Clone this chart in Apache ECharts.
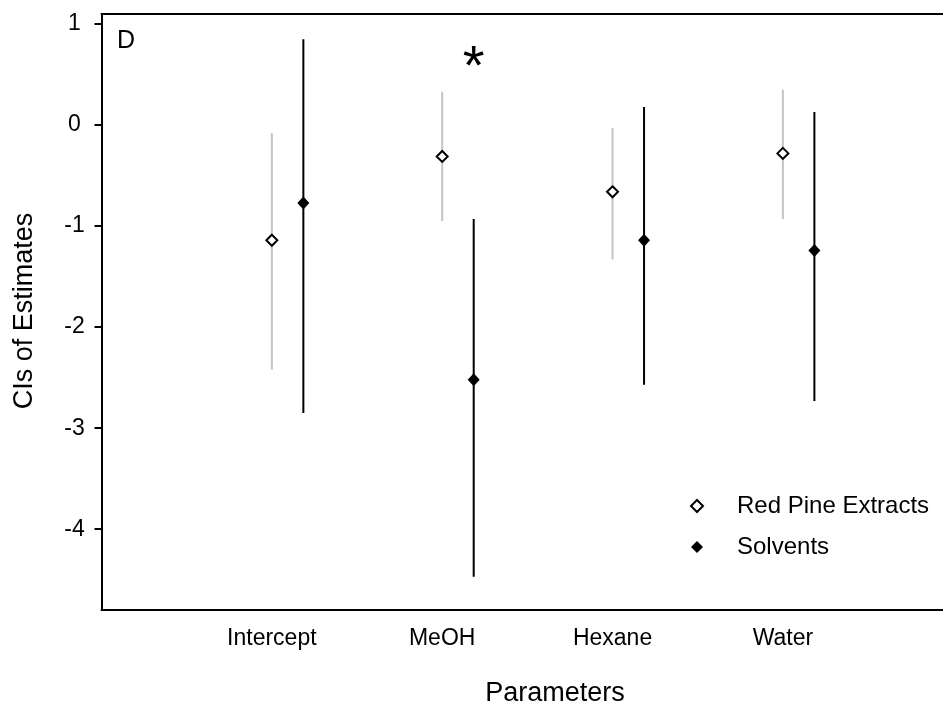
<!DOCTYPE html>
<html><head><meta charset="utf-8">
<script src="https://cdn.jsdelivr.net/npm/echarts@6/dist/echarts.min.js"></script>
<style>html,body{margin:0;padding:0;background:#fff}#c{width:943px;height:728px}</style>
</head><body><div id="c"></div>
<script>
// ---- data ----
const categories = ['Intercept', 'MeOH', 'Hexane', 'Water'];
const categoryPositions = [1, 2, 3, 4];
const solventOffset = 0.185;
const pineEstimate = [-1.14, -0.31, -0.66, -0.28];
const pineLower    = [-2.42, -0.95, -1.33, -0.93];
const pineUpper    = [-0.08,  0.33, -0.03,  0.35];
const solventEstimate = [-0.77, -2.52, -1.14, -1.24];
const solventLower    = [-2.85, -4.47, -2.57, -2.73];
const solventUpper    = [ 0.85, -0.93,  0.18,  0.13];
const yTicks = [-4, -3, -2, -1, 0, 1];
const seriesNames = ['Red Pine Extracts', 'Solvents'];
const significanceCategory = 'MeOH';
const significanceY = 0.56;

// ---- build ----
const FONT = 'Liberation Sans, Arial, sans-serif';
const pinePts = categoryPositions.map((p, i) => [p, pineEstimate[i]]);
const pineBars = categoryPositions.map((p, i) => [p, pineLower[i], pineUpper[i]]);
const solPts = categoryPositions.map((p, i) => [p + solventOffset, solventEstimate[i]]);
const solBars = categoryPositions.map((p, i) => [p + solventOffset, solventLower[i], solventUpper[i]]);
const sigPos = categoryPositions[categories.indexOf(significanceCategory)] + solventOffset;

function errorBar(color) {
  return function (params, api) {
    const x = api.value(0);
    const lo = api.coord([x, api.value(1)]);
    const hi = api.coord([x, api.value(2)]);
    return { type: 'line', shape: { x1: lo[0], y1: lo[1], x2: hi[0], y2: hi[1] },
      style: { stroke: color, lineWidth: 2 } };
  };
}

const axisLineStyle = { color: '#000', width: 2 };
const chart = echarts.init(document.getElementById('c'), null, { renderer: 'canvas' });
chart.setOption({
  animation: false,
  backgroundColor: '#fff',
  grid: { left: 101.5, top: 14, right: 0, bottom: 118 },
  xAxis: [{
    type: 'value', min: 0, max: 4.94, position: 'bottom',
    axisLine: { show: true, onZero: false, lineStyle: axisLineStyle }, axisTick: { show: false }, splitLine: { show: false },
    axisLabel: { customValues: categoryPositions, formatter: v => categories[categoryPositions.indexOf(v)] || '',
      fontSize: 23, fontFamily: FONT, color: '#000', margin: 17 }
  }, {
    type: 'value', min: 0, max: 4.94, position: 'top',
    axisLine: { show: true, onZero: false, lineStyle: axisLineStyle }, axisTick: { show: false }, splitLine: { show: false },
    axisLabel: { show: false }
  }],
  yAxis: {
    type: 'value', min: -4.8, max: 1.1,
    axisLine: { show: true, onZero: false, lineStyle: axisLineStyle }, splitLine: { show: false },
    axisTick: { show: true, customValues: yTicks, length: 7, lineStyle: { color: '#000', width: 2 } },
    axisLabel: { customValues: yTicks, fontSize: 23, fontFamily: FONT, color: '#000', align: 'center', margin: 27 }
  },
  legend: {
    orient: 'vertical', left: 685, top: 488, itemWidth: 12, itemHeight: 12, itemGap: 15,
    data: seriesNames,
    textStyle: { fontSize: 24, fontFamily: FONT, color: '#000', lineHeight: 26, padding: [0, 0, 0, 29] }
  },
  graphic: [
    { type: 'text', x: 117, y: 41, style: { text: 'D', fontSize: 25, fontFamily: FONT, fill: '#000', align: 'left', verticalAlign: 'middle' } },
    { type: 'text', x: 25, y: 311, rotation: Math.PI / 2, style: { text: 'CIs of Estimates', fontSize: 27, fontFamily: FONT, fill: '#000', align: 'center', verticalAlign: 'middle' } },
    { type: 'text', x: 555, y: 694, style: { text: 'Parameters', fontSize: 27, fontFamily: FONT, fill: '#000', align: 'center', verticalAlign: 'middle' } }
  ],
  series: [
    { type: 'custom', name: 'pineCI', data: pineBars, encode: { x: 0, y: [1, 2] }, renderItem: errorBar('#c4c4c4'), z: 2, silent: true },
    { type: 'custom', name: 'solCI', data: solBars, encode: { x: 0, y: [1, 2] }, renderItem: errorBar('#000'), z: 2, silent: true },
    { type: 'scatter', name: seriesNames[0], data: pinePts, symbol: 'diamond', symbolSize: 11,
      itemStyle: { color: '#fff', borderColor: '#000', borderWidth: 2, opacity: 1 }, z: 5 },
    { type: 'scatter', name: seriesNames[1], data: solPts, symbol: 'diamond', symbolSize: [12, 13],
      itemStyle: { color: '#000', opacity: 1 }, z: 5 },
    { type: 'custom', name: 'significance', data: [[sigPos, significanceY]], encode: { x: 0, y: 1 }, z: 6, silent: true,
      renderItem: (params, api) => {
        const c = api.coord([api.value(0), api.value(1)]);
        return { type: 'text', x: c[0], y: c[1], style: { text: '*', fontSize: 56, fontFamily: FONT, fill: '#000', align: 'center', verticalAlign: 'middle' } };
      } }
  ]
});
</script></body></html>
